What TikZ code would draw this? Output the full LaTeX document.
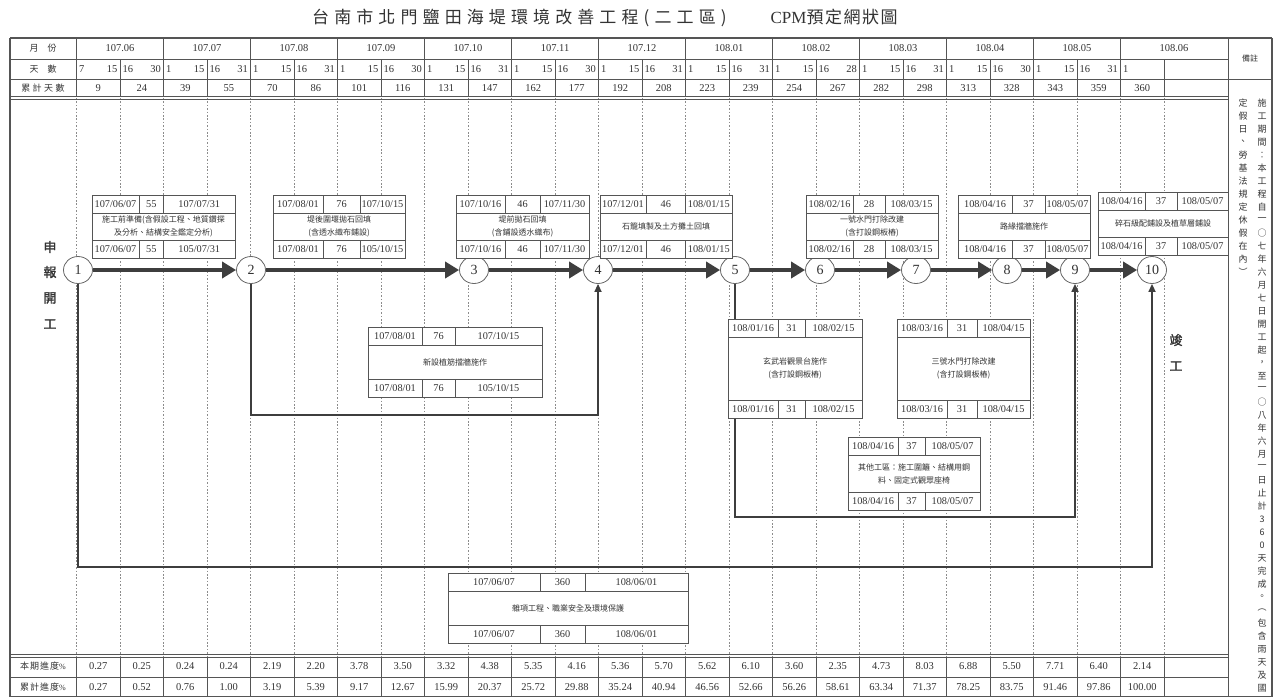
\documentclass[tikz,border=0pt]{standalone}
\usepackage{fontspec}
\setmainfont{Liberation Serif}
\newfontfamily\cjk{Noto Sans CJK TC}
\newfontfamily\cjkb[FakeBold=1.5]{Noto Sans CJK TC}
\newfontfamily\cjkt[LetterSpace=30]{Noto Sans CJK TC}
\newfontfamily\cjks[LetterSpace=9]{Noto Sans CJK TC}
\usetikzlibrary{arrows.meta,shapes.geometric}
\definecolor{ink}{HTML}{333333}
\definecolor{rulec}{HTML}{555555}
\definecolor{dashc}{HTML}{8C8C8C}
\definecolor{arrowc}{HTML}{3E3E3E}
\newcommand\bxgeom[6]{\def\bxa{#1}\def\bya{#2}\def\bxb{#3}\def\byb{#4}\def\bda{#5}\def\bdb{#6}}
\newcommand\taskbox[8]{%
  \fill[white] (\bxa,\bya) rectangle (\bxb,\byb);
  \draw[boxline] (\bxa,\bya) rectangle (\bxb,\byb);
  \draw[boxline] (\bxa,\bya+18) -- (\bxb,\bya+18) (\bxa,\byb-18) -- (\bxb,\byb-18);
  \draw[boxline] (\bda,\bya) -- (\bda,\bya+18) (\bdb,\bya) -- (\bdb,\bya+18)
                 (\bda,\byb-18) -- (\bda,\byb) (\bdb,\byb-18) -- (\bdb,\byb);
  \node[num] (#1ts) at ({(\bxa+\bda)/2},\bya+9.5) {#2};
  \node[num] (#1td) at ({(\bda+\bdb)/2},\bya+9.5) {#3};
  \node[num] (#1te) at ({(\bdb+\bxb)/2},\bya+9.5) {#4};
  \node[mid] (#1m) at ({(\bxa+\bxb)/2},{(\bya+\byb)/2}) {#5};
  \node[num] (#1bs) at ({(\bxa+\bda)/2},\byb-8.5) {#6};
  \node[num] (#1bd) at ({(\bda+\bdb)/2},\byb-8.5) {#7};
  \node[num] (#1be) at ({(\bdb+\bxb)/2},\byb-8.5) {#8};
}
\begin{document}
\begin{tikzpicture}[x=1pt,y=-1pt,
  boxline/.style={draw=rulec,line width=0.7pt},
  rule/.style={draw=rulec,line width=0.8pt},
  heavy/.style={draw=rulec,line width=1.3pt},
  gridd/.style={draw=dashc,line width=0.6pt,dash pattern=on 1.6pt off 1.8pt},
  num/.style={font=\fontsize{10.3}{10.3}\selectfont,text=ink,inner sep=0pt},
  hd/.style={font=\fontsize{10.5}{10.5}\selectfont,text=ink,inner sep=0pt},
  mid/.style={font=\cjk\fontsize{8}{13}\selectfont,text=ink,align=center,inner sep=0pt},
  lbl/.style={font=\cjk\fontsize{9}{9}\selectfont,text=ink,inner sep=0pt},
  vch/.style={font=\cjk\fontsize{9}{9}\selectfont,text=ink,inner sep=0pt},
  big/.style={font=\cjkb\fontsize{13}{13}\selectfont,text=ink,inner sep=0pt},
  ev/.style={ellipse,draw=black!60,line width=0.8pt,fill=white,minimum width=29pt,minimum height=27pt,inner sep=0pt,
             font=\fontsize{14}{14}\selectfont,text=ink},
  mainarrow/.style={draw=arrowc,line width=4.6pt,-{Triangle[length=14pt,width=16pt]}},
  link/.style={draw=arrowc,line width=1.6pt,-{Triangle[length=8pt,width=7pt]}}
]
\useasboundingbox (0,0) rectangle (1276,697);
\fill[white] (0,0) rectangle (1276,697);

% title
\node[anchor=west,inner sep=0pt,text=ink] (title) at (312,18)
  {\cjkt\fontsize{17}{17}\selectfont 台南市北門鹽田海堤環境改善工程(二工區)\hspace{44pt}{\rmfamily\fontsize{17}{17}\selectfont CPM}{\cjks 預定網狀圖}};

% body dashed grid
\foreach \i in {0,...,25} \draw[gridd] (76.5+43.5*\i,98) -- (76.5+43.5*\i,656);

% table frame
\draw[heavy] (10,38) -- (1272,38);
\draw[rule] (10,59) -- (1228,59);
\draw[rule] (10,79) -- (1272,79);
\draw[rule] (10,96.5) -- (1228,96.5) (10,99.2) -- (1228,99.2);
\draw[rule] (10,654.5) -- (1228,654.5) (10,657.2) -- (1228,657.2);
\draw[rule] (10,677) -- (1228,677);
\draw[heavy] (10,696.3) -- (1272,696.3);
\draw[heavy] (10,38) -- (10,697);
\draw[rule] (1228,38) -- (1228,697);
\draw[heavy] (1272,38) -- (1272,697);
\draw[rule] (76.5,38) -- (76.5,96.5) (76.5,657.2) -- (76.5,697);
\foreach \i in {1,...,12} \draw[rule] (76.5+87*\i,38) -- (76.5+87*\i,59);
\foreach \i in {1,...,25} \draw[rule] (76.5+43.5*\i,59) -- (76.5+43.5*\i,96.5);
\foreach \i in {1,...,25} \draw[rule] (76.5+43.5*\i,657.2) -- (76.5+43.5*\i,697);

% header labels
\node[lbl] (hm) at (43,48.5) {月\hspace{9pt}份};
\node[lbl] (hdy) at (43,69) {天\hspace{9pt}數};
\node[lbl] (hc) at (43,88.5) {累\hspace{2.5pt}計\hspace{2.5pt}天\hspace{2.5pt}數};
\node[lbl] (hp) at (43,666.5) {本\hspace{1pt}期\hspace{1pt}進\hspace{1pt}度{\rmfamily\fontsize{8}{8}\selectfont\%}};
\node[lbl] (hq) at (43,687) {累\hspace{1pt}計\hspace{1pt}進\hspace{1pt}度{\rmfamily\fontsize{8}{8}\selectfont\%}};
\node[font=\cjk\fontsize{8}{8}\selectfont,text=ink,inner sep=0pt] (rem) at (1250,58.5) {備註};

% months
\foreach \m [count=\i from 0] in {107.06,107.07,107.08,107.09,107.10,107.11,107.12,108.01,108.02,108.03,108.04,108.05}
  \node[hd] (mo\i) at (120+87*\i,48.5) {\m};
\node[hd] (mo12) at (1174,48.5) {108.06};

% days
\foreach \a/\b [count=\i from 0] in {7/15,16/30,1/15,16/31,1/15,16/31,1/15,16/30,1/15,16/31,1/15,16/30,1/15,16/31,1/15,16/31,1/15,16/28,1/15,16/31,1/15,16/30,1/15,16/31}{
  \node[hd,anchor=west] (dl\i) at (76.5+43.5*\i+2.5,69) {\a};
  \node[hd,anchor=east] (dr\i) at (76.5+43.5*\i+41,69) {\b};
}
\node[hd,anchor=west] (dl24) at (76.5+43.5*24+2.5,69) {1};

% cumulative days
\foreach \v [count=\i from 0] in {9,24,39,55,70,86,101,116,131,147,162,177,192,208,223,239,254,267,282,298,313,328,343,359,360}
  \node[hd] (cd\i) at (98.25+43.5*\i,88.5) {\v};

% progress rows
\foreach \v [count=\i from 0] in {0.27,0.25,0.24,0.24,2.19,2.20,3.78,3.50,3.32,4.38,5.35,4.16,5.36,5.70,5.62,6.10,3.60,2.35,4.73,8.03,6.88,5.50,7.71,6.40,2.14}
  \node[hd] (pp\i) at (98.25+43.5*\i,666.5) {\v};
\foreach \v [count=\i from 0] in {0.27,0.52,0.76,1.00,3.19,5.39,9.17,12.67,15.99,20.37,25.72,29.88,35.24,40.94,46.56,52.66,56.26,58.61,63.34,71.37,78.25,83.75,91.46,97.86,100.00}
  \node[hd] (pc\i) at (98.25+43.5*\i,687) {\v};

% remark column (vertical text)
\foreach \c [count=\i from 0] in {施,工,期,間,︰,本,工,程,自,一,○,七,年,六,月,七,日,開,工,起,，,至,一,○,八,年,六,月,一,日,止,計,3,6,0,天,完,成,。,︵,包,含,雨,天,及,國}
  \node[vch] (nr\i) at (1262,103+13*\i) {\c};
\foreach \c [count=\i from 0] in {定,假,日,、,勞,基,法,規,定,休,假,在,內,︶}
  \node[vch] (nl\i) at (1243,103+13*\i) {\c};

% start / finish labels
\node[big] (s1) at (50,247) {申};
\node[big] (s2) at (50,272) {報};
\node[big] (s3) at (50,298) {開};
\node[big] (s4) at (50,324) {工};
\node[big] (f1) at (1176,340) {竣};
\node[big] (f2) at (1176,366) {工};

\coordinate (y415) at (0,415);
\coordinate (y517) at (0,517);
\coordinate (y567) at (0,567);

% event nodes
\node[ev] (n1) at (78,270) {1};
\node[ev] (n2) at (251,270) {2};
\node[ev] (n3) at (474,270) {3};
\node[ev] (n4) at (598,270) {4};
\node[ev] (n5) at (735,270) {5};
\node[ev] (n6) at (820,270) {6};
\node[ev] (n7) at (916,270) {7};
\node[ev] (n8) at (1007,270) {8};
\node[ev] (n9) at (1075,270) {9};
\node[ev] (n10) at (1152,270) {10};

\draw[link] (n2.south) |- (n4 |- y415) -- (n4.south);
\draw[link] (n5.south) |- (n9 |- y517) -- (n9.south);
\draw[link] (n1.south) |- (n10 |- y567) -- (n10.south);

\foreach \a/\b in {n1/n2,n2/n3,n3/n4,n4/n5,n5/n6,n6/n7,n7/n8,n8/n9,n9/n10}
  \draw[mainarrow] (\a) -- (\b);

% task boxes
\bxgeom{92}{195}{235}{258}{139}{163.5}
\taskbox{ta}{107/06/07}{55}{107/07/31}{施工前準備(含假設工程、地質鑽探\\及分析、結構安全鑑定分析)}{107/06/07}{55}{105/07/31}
\bxgeom{273}{195}{405}{258}{323}{360}
\taskbox{tb}{107/08/01}{76}{107/10/15}{堤後圍堰拋石回填\\(含透水織布鋪設)}{107/08/01}{76}{105/10/15}
\bxgeom{456}{195}{589}{258}{505}{540}
\taskbox{tc}{107/10/16}{46}{107/11/30}{堤前拋石回填\\(含鋪設透水織布)}{107/10/16}{46}{107/11/30}
\bxgeom{600}{195}{732}{258}{646}{685.5}
\taskbox{td}{107/12/01}{46}{108/01/15}{石籠填製及土方攤土回填}{107/12/01}{46}{108/01/15}
\bxgeom{806}{195}{938}{258}{853}{885}
\taskbox{te}{108/02/16}{28}{108/03/15}{一號水門打除改建\\(含打設鋼板樁)}{108/02/16}{28}{108/03/15}
\bxgeom{958}{195}{1090}{258}{1012}{1045}
\taskbox{tf}{108/04/16}{37}{108/05/07}{路緣擋牆施作}{108/04/16}{37}{108/05/07}
\bxgeom{1098}{192}{1228}{255}{1145}{1177}
\taskbox{tg}{108/04/16}{37}{108/05/07}{碎石級配鋪設及植草層鋪設}{108/04/16}{37}{108/05/07}
\bxgeom{368}{327}{542}{397}{422}{455}
\taskbox{th}{107/08/01}{76}{107/10/15}{新設植筋擋牆施作}{107/08/01}{76}{105/10/15}
\bxgeom{728}{319}{862}{418}{778}{805}
\taskbox{ti}{108/01/16}{31}{108/02/15}{玄武岩觀景台施作\\(含打設鋼板樁)}{108/01/16}{31}{108/02/15}
\bxgeom{897}{319}{1030}{418}{947}{977}
\taskbox{tj}{108/03/16}{31}{108/04/15}{三號水門打除改建\\(含打設鋼板樁)}{108/03/16}{31}{108/04/15}
\bxgeom{848}{437}{980}{510}{898}{925}
\taskbox{tk}{108/04/16}{37}{108/05/07}{其他工區：施工圍籬、結構用鋼\\料、固定式觀眾座椅}{108/04/16}{37}{108/05/07}
\bxgeom{448}{573}{688}{643}{540}{585}
\taskbox{tl}{107/06/07}{360}{108/06/01}{雜項工程、職業安全及環境保護}{107/06/07}{360}{108/06/01}
\end{tikzpicture}
\end{document}
